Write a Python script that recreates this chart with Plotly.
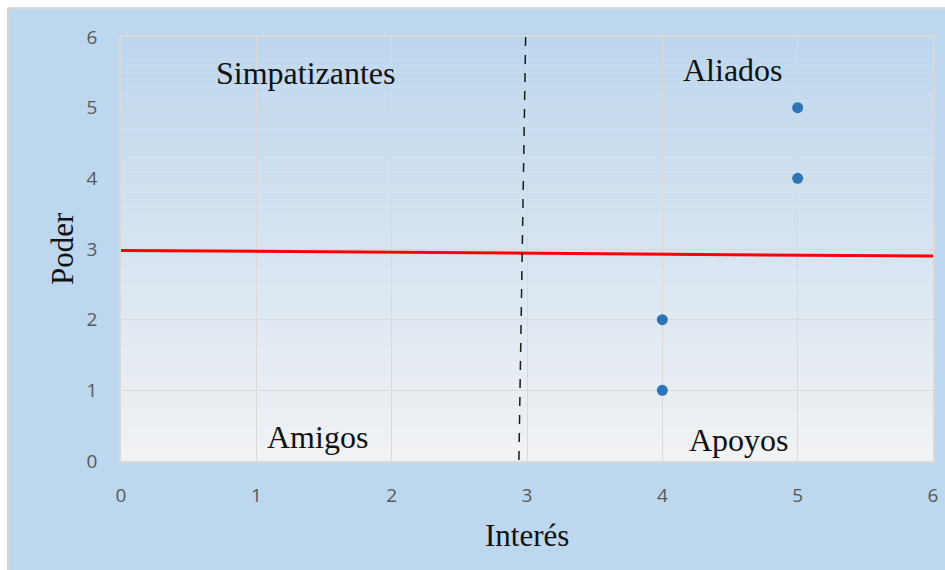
import plotly.graph_objects as go

# Stakeholder scores
interes = [4, 4, 5, 5]
poder = [1, 2, 4, 5]

# Reference lines separating the quadrants
linea_poder_x = [0, 6]
linea_poder_y = [2.98, 2.90]
linea_interes_x = [2.99, 2.94]
linea_interes_y = [6, 0]

cuadrantes = ["Simpatizantes", "Aliados", "Amigos", "Apoyos"]
cuadrante_x = [1.37, 4.52, 1.45, 4.57]
cuadrante_y = [5.49, 5.53, 0.34, 0.30]

ticks = [0, 1, 2, 3, 4, 5, 6]

W, H = 945, 570
ML, MR, MT, MB = 121, 12, 37, 109
PW, PH = W - ML - MR, H - MT - MB

SERIF = "Liberation Serif, Times New Roman, serif"
BLUE = "#bdd7ee"

def px_x(p):
    return (p - ML) / PW

def px_y(p):
    return 1 + (MT - p) / PH

fig = go.Figure()

fig.add_trace(go.Scatter(
    x=interes, y=poder, mode="markers",
    marker=dict(color="#2e75b6", size=11),
    showlegend=False, hoverinfo="x+y",
))

shapes = []
# white frame strips around the chart area
shapes.append(dict(type="rect", xref="paper", yref="paper",
                   x0=px_x(0), x1=px_x(W), y0=px_y(0), y1=px_y(8),
                   fillcolor="white", line=dict(width=0), layer="below"))
shapes.append(dict(type="rect", xref="paper", yref="paper",
                   x0=px_x(0), x1=px_x(8), y0=px_y(0), y1=px_y(H),
                   fillcolor="white", line=dict(width=0), layer="below"))
shapes.append(dict(type="line", xref="paper", yref="paper",
                   x0=px_x(8), x1=px_x(W), y0=px_y(8), y1=px_y(8),
                   line=dict(color="#d9d9d9", width=2), layer="below"))
shapes.append(dict(type="line", xref="paper", yref="paper",
                   x0=px_x(8), x1=px_x(8), y0=px_y(8), y1=px_y(H),
                   line=dict(color="#d4d4d4", width=2), layer="below"))

# vertical gradient fill of the plotting area
top = (189, 214, 237)
bot = (241, 242, 244)
n = 60
for i in range(n):
    t = i / (n - 1)
    c = tuple(round(top[k] + (bot[k] - top[k]) * t) for k in range(3))
    shapes.append(dict(type="rect", xref="paper", yref="paper",
                       x0=0, x1=1, y0=1 - (i + 1) / n, y1=1 - i / n,
                       fillcolor="rgb(%d,%d,%d)" % c,
                       line=dict(width=0), layer="below"))

shapes.append(dict(type="line", xref="x", yref="y",
                   x0=linea_poder_x[0], x1=linea_poder_x[1],
                   y0=linea_poder_y[0], y1=linea_poder_y[1],
                   line=dict(color="#ff0000", width=3)))
shapes.append(dict(type="line", xref="x", yref="y",
                   x0=linea_interes_x[0], x1=linea_interes_x[1],
                   y0=linea_interes_y[0], y1=linea_interes_y[1],
                   line=dict(color="#1a1a1a", width=1.5, dash="dash")))

annotations = []
for name, ax_, ay_ in zip(cuadrantes, cuadrante_x, cuadrante_y):
    annotations.append(dict(x=ax_, y=ay_, xref="x", yref="y", text=name,
                            showarrow=False, xanchor="center", yanchor="middle",
                            font=dict(family=SERIF, size=32, color="#111111")))
annotations.append(dict(x=0, y=0.5, xref="paper", yref="paper", text="Poder",
                        textangle=-90, showarrow=False, xshift=-59,
                        xanchor="center", yanchor="middle",
                        font=dict(family=SERIF, size=31, color="#111111")))
annotations.append(dict(x=0.5, y=0, xref="paper", yref="paper", text="Interés",
                        showarrow=False, yshift=-74,
                        xanchor="center", yanchor="middle",
                        font=dict(family=SERIF, size=31, color="#111111")))

axis_common = dict(
    range=[0, 6], tickvals=ticks, ticktext=[str(t) for t in ticks],
    showgrid=True, gridcolor="#d9d9d9", gridwidth=1,
    showline=True, linecolor="#d9d9d9", linewidth=1.5, mirror=True,
    zeroline=False, ticks="outside", tickcolor="rgba(0,0,0,0)",
    tickfont=dict(family="Open Sans, Noto Sans, sans-serif", size=19, color="#595959"),
    fixedrange=True, automargin=False,
)

fig.update_layout(
    width=W, height=H,
    margin=dict(l=ML, r=MR, t=MT, b=MB, pad=0, autoexpand=False),
    paper_bgcolor=BLUE, plot_bgcolor="#e4ecf4",
    xaxis=dict(axis_common, ticklen=16),
    yaxis=dict(axis_common, ticklen=18),
    shapes=shapes, annotations=annotations,
    showlegend=False,
)

fig.write_html("out.html")
